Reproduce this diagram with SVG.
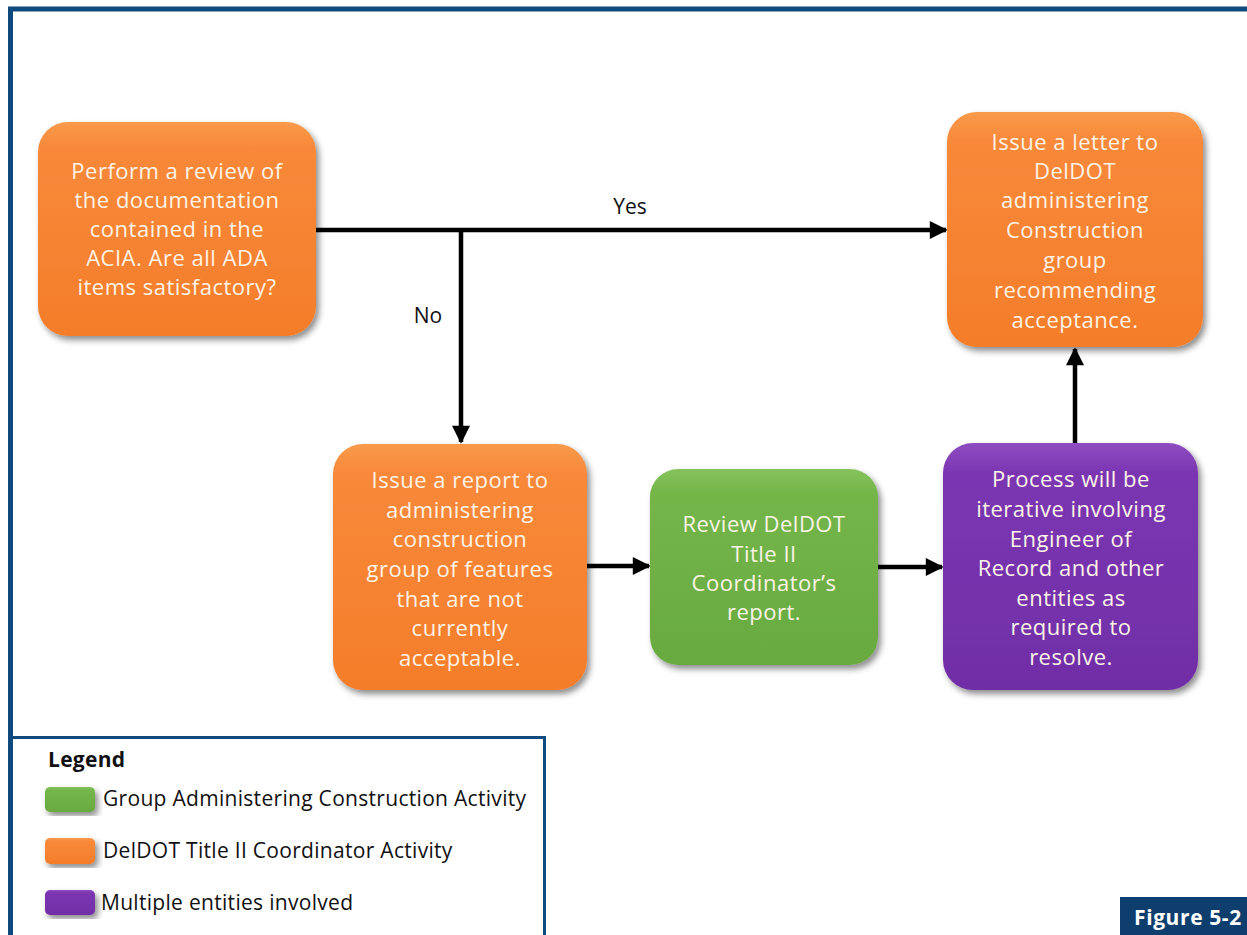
<svg xmlns="http://www.w3.org/2000/svg" width="1247" height="935" viewBox="0 0 1247 935">
<style>
.nt{font-family:"Open Sans","DejaVu Sans",sans-serif;font-size:22px;letter-spacing:0.5px;fill:#fdf3e6;text-anchor:middle}
.lb{font-family:"Open Sans","DejaVu Sans",sans-serif;font-size:21px;fill:#111}
.lg{font-family:"Open Sans","DejaVu Sans",sans-serif;font-size:21px;letter-spacing:0.3px;fill:#111}
.conn{stroke:#000;stroke-width:4.5;fill:none}
</style>
<defs>
<linearGradient id="gOr" x1="0" y1="0" x2="0" y2="1"><stop offset="0" stop-color="#f99a4a"/><stop offset="0.12" stop-color="#f8893a"/><stop offset="1" stop-color="#f47d2a"/></linearGradient>
<linearGradient id="gGr" x1="0" y1="0" x2="0" y2="1"><stop offset="0" stop-color="#86c35e"/><stop offset="0.12" stop-color="#74b64a"/><stop offset="1" stop-color="#68aa40"/></linearGradient>
<linearGradient id="gPu" x1="0" y1="0" x2="0" y2="1"><stop offset="0" stop-color="#8e4cc0"/><stop offset="0.12" stop-color="#7b36b2"/><stop offset="1" stop-color="#702ea6"/></linearGradient>
<filter id="sh" x="-10%" y="-10%" width="125%" height="125%"><feDropShadow dx="3" dy="4" stdDeviation="3" flood-color="#000" flood-opacity="0.45"/></filter>
<marker id="ah" viewBox="0 0 10 10" refX="9" refY="5" markerWidth="4.4" markerHeight="4" orient="auto" markerUnits="strokeWidth"><path d="M0,0 L10,5 L0,10 z" fill="#000"/></marker>
</defs>
<rect width="1247" height="935" fill="#fff"/>
<path d="M10.5 935 V9 H1247" fill="none" stroke="#0f4a7e" stroke-width="5"/>

<g id="connectors">
<line class="conn" x1="316" y1="230" x2="946" y2="230" marker-end="url(#ah)"/>
<line class="conn" x1="461" y1="230" x2="461" y2="442" marker-end="url(#ah)"/>
<line class="conn" x1="587" y1="566" x2="649" y2="566" marker-end="url(#ah)"/>
<line class="conn" x1="878" y1="567" x2="942" y2="567" marker-end="url(#ah)"/>
<line class="conn" x1="1075" y1="443" x2="1075" y2="349" marker-end="url(#ah)"/>
<text class="lb" x="630" y="214" text-anchor="middle">Yes</text>
<text class="lb" x="428" y="323" text-anchor="middle">No</text>
</g>

<g id="n1">
<rect x="38" y="122" width="278" height="214" rx="30" fill="url(#gOr)" filter="url(#sh)"/>
<text class="nt" x="177" y="179">Perform a review of</text>
<text class="nt" x="177" y="208">the documentation</text>
<text class="nt" x="177" y="237">contained in the</text>
<text class="nt" x="177" y="266">ACIA. Are all ADA</text>
<text class="nt" x="177" y="295">items satisfactory?</text>
</g>

<g id="n2">
<rect x="333" y="444" width="254" height="246" rx="30" fill="url(#gOr)" filter="url(#sh)"/>
<text class="nt" x="460" y="488">Issue a report to</text>
<text class="nt" x="460" y="518">administering</text>
<text class="nt" x="460" y="547">construction</text>
<text class="nt" x="460" y="577">group of features</text>
<text class="nt" x="460" y="607">that are not</text>
<text class="nt" x="460" y="636">currently</text>
<text class="nt" x="460" y="666">acceptable.</text>
</g>

<g id="n3">
<rect x="650" y="469" width="228" height="196" rx="28" fill="url(#gGr)" filter="url(#sh)"/>
<text class="nt" x="764" y="532">Review DelDOT</text>
<text class="nt" x="764" y="562">Title II</text>
<text class="nt" x="764" y="591">Coordinator’s</text>
<text class="nt" x="764" y="620">report.</text>
</g>

<g id="n4">
<rect x="943" y="443" width="255" height="247" rx="30" fill="url(#gPu)" filter="url(#sh)"/>
<text class="nt" x="1071" y="487">Process will be</text>
<text class="nt" x="1071" y="517">iterative involving</text>
<text class="nt" x="1071" y="547">Engineer of</text>
<text class="nt" x="1071" y="576">Record and other</text>
<text class="nt" x="1071" y="606">entities as</text>
<text class="nt" x="1071" y="635">required to</text>
<text class="nt" x="1071" y="665">resolve.</text>
</g>

<g id="n5">
<rect x="947" y="112" width="256" height="235" rx="30" fill="url(#gOr)" filter="url(#sh)"/>
<text class="nt" x="1075" y="150">Issue a letter to</text>
<text class="nt" x="1075" y="179">DelDOT</text>
<text class="nt" x="1075" y="208">administering</text>
<text class="nt" x="1075" y="238">Construction</text>
<text class="nt" x="1075" y="268">group</text>
<text class="nt" x="1075" y="298">recommending</text>
<text class="nt" x="1075" y="328">acceptance.</text>
</g>

<g id="legend">
<path d="M11 737.5 H544.5 V935" fill="#fff" stroke="#0f4a7e" stroke-width="3"/>
<text class="lg" x="48" y="767" font-weight="bold" font-size="23" letter-spacing="0.5">Legend</text>
<rect x="45" y="787" width="50" height="25" rx="5" fill="url(#gGr)" filter="url(#sh)"/>
<text class="lg" x="103" y="806">Group Administering Construction Activity</text>
<rect x="45" y="838" width="50" height="26" rx="5" fill="url(#gOr)" filter="url(#sh)"/>
<text class="lg" x="103" y="858">DelDOT Title II Coordinator Activity</text>
<rect x="45" y="890" width="50" height="25" rx="5" fill="url(#gPu)" filter="url(#sh)"/>
<text class="lg" x="101" y="910">Multiple entities involved</text>
</g>

<g id="figlabel">
<rect x="1120" y="897" width="127" height="38" fill="#0e3e6e"/>
<text x="1134" y="925" font-family="'Open Sans','DejaVu Sans',sans-serif" font-size="21" letter-spacing="0.6" font-weight="bold" fill="#fff">Figure 5-2</text>
</g>
</svg>
